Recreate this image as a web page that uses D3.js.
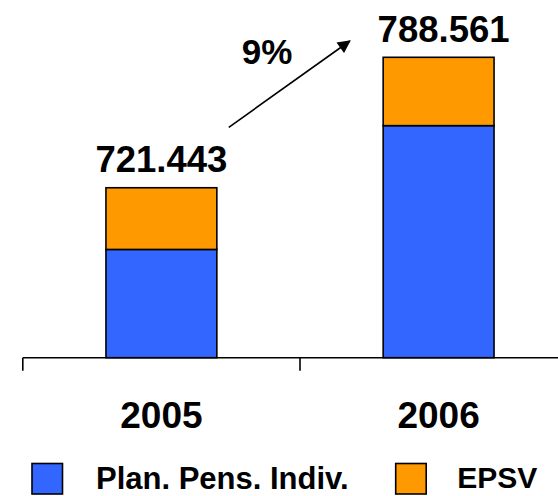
<!DOCTYPE html>
<html>
<head>
<meta charset="utf-8">
<script src="https://cdn.jsdelivr.net/npm/d3@7"></script>
<style>
  html, body { margin: 0; padding: 0; background: #fff; }
  svg { display: block; }
  text { font-family: "Liberation Sans", Arial, Helvetica, sans-serif; font-weight: bold; fill: #000; }
</style>
</head>
<body>
<script>
// ---- data ----
const years = ["2005", "2006"];
const planPens = [689.7, 753.4];     // Plan. Pens. Indiv. (stack top, truncated axis)
const epsv = [31.743, 35.161];       // EPSV
const seriesNames = ["Plan. Pens. Indiv.", "EPSV"];
const seriesColors = ["#3366FF", "#FF9900"];
const growthLabel = "9%";

const W = 558, H = 496;
const svg = d3.select("body").append("svg").attr("width", W).attr("height", H);

const totals = years.map((d, i) => planPens[i] + epsv[i]);
const rows = years.map((d, i) => ({ year: d, plan: planPens[i], epsv: epsv[i], total: totals[i] }));

const x = d3.scaleBand().domain(years).range([22.8, 577.2]).paddingInner(0).paddingOuter(0);
const y = d3.scaleLinear().domain([634, 788.561]).range([357.7, 57.3]);
const barW = x.bandwidth() * 0.4;
const base = y.domain()[0];
const labelDx = [0, 5];

// bars
const g = svg.append("g");
rows.forEach((r, i) => {
  const cx = x(r.year) + x.bandwidth() / 2;
  g.append("rect")
    .attr("x", cx - barW / 2).attr("width", barW)
    .attr("y", y(r.plan)).attr("height", y(base) - y(r.plan))
    .attr("fill", seriesColors[0]).attr("stroke", "#000").attr("stroke-width", 1.6);
  g.append("rect")
    .attr("x", cx - barW / 2).attr("width", barW)
    .attr("y", y(r.total)).attr("height", y(r.plan) - y(r.total))
    .attr("fill", seriesColors[1]).attr("stroke", "#000").attr("stroke-width", 1.6);
  g.append("text")
    .attr("x", cx + labelDx[i]).attr("y", y(r.total) - 15.5)
    .attr("text-anchor", "middle").attr("font-size", 36.5)
    .text(d3.format(".3f")(r.total));
  g.append("text")
    .attr("x", cx).attr("y", 427.7)
    .attr("text-anchor", "middle").attr("font-size", 37)
    .text(r.year);
});

// axis
const axisY = y(base);
svg.append("line").attr("x1", x.range()[0]).attr("x2", W).attr("y1", axisY).attr("y2", axisY)
  .attr("stroke", "#000").attr("stroke-width", 1.6);
years.forEach(yr => {
  svg.append("line").attr("x1", x(yr)).attr("x2", x(yr)).attr("y1", axisY).attr("y2", axisY + 13)
    .attr("stroke", "#000").attr("stroke-width", 1.6);
});

// growth arrow annotation
const defs = svg.append("defs");
defs.append("marker").attr("id", "ah").attr("viewBox", "0 0 10 10")
  .attr("refX", 9).attr("refY", 5).attr("markerWidth", 14).attr("markerHeight", 13)
  .attr("markerUnits", "userSpaceOnUse").attr("orient", "auto")
  .append("path").attr("d", "M0,0 L10,5 L0,10 z").attr("fill", "#000");
svg.append("line").attr("x1", 228.8).attr("y1", 127.3).attr("x2", 349.8).attr("y2", 41)
  .attr("stroke", "#000").attr("stroke-width", 1.6).attr("marker-end", "url(#ah)");
svg.append("text").attr("x", 267).attr("y", 64).attr("text-anchor", "middle")
  .attr("font-size", 35).text(growthLabel);

// legend
const legend = [
  { box: 32, text: 96, size: 31, base: 489 },
  { box: 395.7, text: 457.3, size: 30, base: 488 }
];
legend.forEach((L, i) => {
  svg.append("rect").attr("x", L.box).attr("y", 463.5).attr("width", 30.5).attr("height", 30.5)
    .attr("fill", seriesColors[i]).attr("stroke", "#000").attr("stroke-width", 1.6);
  svg.append("text").attr("x", L.text).attr("y", L.base).attr("font-size", L.size).text(seriesNames[i]);
});
</script>
</body>
</html>
